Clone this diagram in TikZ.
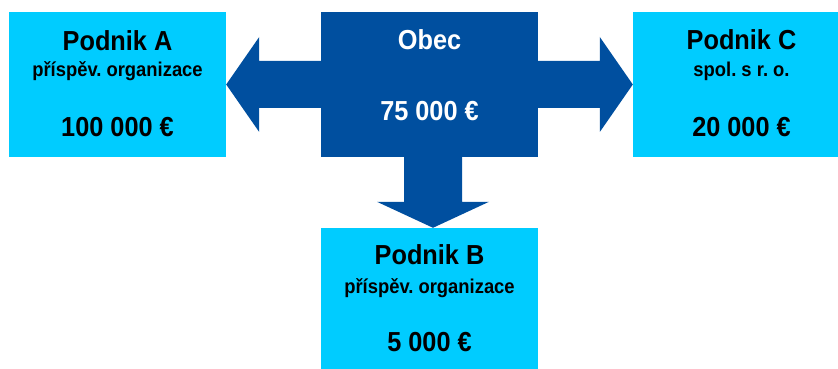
\documentclass[tikz,border=0pt]{standalone}
\usepackage{fontspec}
\setmainfont{Liberation Sans}[FakeStretch=0.92]
\usetikzlibrary{calc}
\definecolor{lightc}{HTML}{00CCFF}
\definecolor{darkc}{HTML}{004F9F}
\frenchspacing
\tikzset{
  box/.style={rectangle, fill=lightc, draw=none, inner sep=0pt, minimum height=145pt},
  obecbox/.style={rectangle, fill=darkc, draw=none, inner sep=0pt, minimum height=145pt},
  bigtxt/.style={font=\fontsize{27.5}{32}\selectfont\bfseries, anchor=base, inner sep=0pt},
  smalltxt/.style={font=\fontsize{20}{24}\selectfont\bfseries, anchor=base, inner sep=0pt},
  flow/.style={fill=darkc, draw=none}
}
\begin{document}
\begin{tikzpicture}[x=1pt,y=1pt]
\useasboundingbox (0,0) rectangle (838,369);
% boxes
\node[box, minimum width=217pt] (A) at (117.5,284.5) {};
\node[obecbox, minimum width=217pt] (O) at (429.5,284.5) {};
\node[box, minimum width=205pt] (C) at (735.5,284.5) {};
\node[box, minimum width=217pt, minimum height=141pt] (B) at (429.5,70.5) {};
% arrows
\fill[flow] ([yshift=23.5pt]O.west) -- ([shift={(33pt,23.5pt)}]A.east) -- ([shift={(33pt,47.5pt)}]A.east)
  -- (A.east) -- ([shift={(33pt,-47.5pt)}]A.east) -- ([shift={(33pt,-23.5pt)}]A.east)
  -- ([yshift=-23.5pt]O.west) -- cycle;
\fill[flow] ([yshift=23.5pt]O.east) -- ([shift={(-33pt,23.5pt)}]C.west) -- ([shift={(-33pt,47.5pt)}]C.west)
  -- (C.west) -- ([shift={(-33pt,-47.5pt)}]C.west) -- ([shift={(-33pt,-23.5pt)}]C.west)
  -- ([yshift=-23.5pt]O.east) -- cycle;
\coordinate (Os) at ([xshift=3.5pt]O.south);
\coordinate (Bn) at ([xshift=3.5pt]B.north);
\fill[flow] ([xshift=-29pt]Os) -- ([shift={(-29pt,26pt)}]Bn) -- ([shift={(-56pt,26pt)}]Bn)
  -- (Bn) -- ([shift={(56pt,26pt)}]Bn) -- ([shift={(29pt,26pt)}]Bn)
  -- ([xshift=29pt]Os) -- cycle;
% texts A
\node[bigtxt] (A1) at ([yshift=-39pt]A.north) {Podnik A};
\node[smalltxt] (A2) at ([yshift=-65pt]A.north) {příspěv. organizace};
\node[bigtxt] (A3) at ([yshift=-125pt]A.north) {100 000 €};
% texts Obec
\node[bigtxt, text=white] (O1) at ([yshift=-38pt]O.north) {Obec};
\node[bigtxt, text=white] (O2) at ([yshift=-109pt]O.north) {75 000 €};
% texts C
\node[bigtxt] (C1) at ([shift={(6pt,-38pt)}]C.north) {Podnik C};
\node[smalltxt] (C2) at ([shift={(6pt,-65pt)}]C.north) {spol. s r. o.};
\node[bigtxt] (C3) at ([shift={(6pt,-125pt)}]C.north) {20 000 €};
% texts B
\node[bigtxt] (B1) at ([yshift=-37pt]B.north) {Podnik B};
\node[smalltxt] (B2) at ([yshift=-66pt]B.north) {příspěv. organizace};
\node[bigtxt] (B3) at ([yshift=-124pt]B.north) {5 000 €};
\end{tikzpicture}
\end{document}
